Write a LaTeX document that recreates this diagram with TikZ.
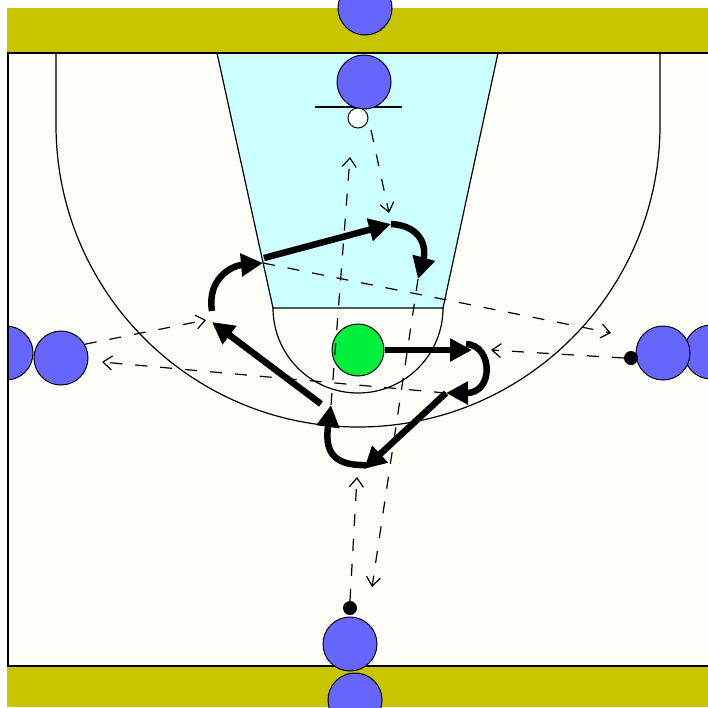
\documentclass[tikz,border=0pt]{standalone}
\usetikzlibrary{arrows.meta}
\definecolor{band}{RGB}{200,196,0}
\definecolor{court}{RGB}{254,254,248}
\definecolor{lanec}{RGB}{204,255,255}
\definecolor{pblue}{RGB}{102,102,255}
\definecolor{pgreen}{RGB}{0,240,60}
\begin{document}
\begin{tikzpicture}[x=1pt,y=-1pt,
  player/.style={circle,draw=black,fill=pblue,line width=1pt,minimum size=54pt,inner sep=0pt},
  ballpt/.style={circle,fill=black,minimum size=14pt,inner sep=0pt},
  thinline/.style={draw=black,line width=1.2pt},
  move/.style={line width=6.5pt,-{Triangle[length=22pt,width=22pt]}},
  pass/.style={line width=1.2pt,dash pattern=on 12pt off 13pt,-{Straight Barb[length=9pt,width=14pt,line width=1.2pt]}}]
\useasboundingbox (0,0) rectangle (708,707);
\fill[white] (0,0) rectangle (708,707);
\clip (7,0) rectangle (708,707);
% court
\fill[court] (7,53) rectangle (708,665);
\filldraw[fill=lanec,thinline] (217,53) -- (498,53) -- (443,308) -- (273,308) -- cycle;
\draw[thinline] (273,308) arc[start angle=180,end angle=0,radius=85];
\draw[thinline] (56,53) -- (56,125) arc[start angle=180,end angle=0,radius=302] -- (660,53);
\draw[thinline] (315,107) -- (402,107);
% bands
\fill[band] (7,8) rectangle (708,53);
\fill[band] (7,665) rectangle (708,707);
\draw[line width=1.8pt] (7,53) -- (708,53);
\draw[line width=2pt] (7,665.5) -- (708,665.5);
\draw[line width=2pt] (8,53) -- (8,666);
% players
\node[player] (t1) at (365,8) {};
\node[player] (t2) at (364,82) {};
\node[circle,draw=black,fill=white,line width=1pt,minimum size=20pt,inner sep=0pt] (rim) at (358,118) {};
\node[player] (l1) at (6,353) {};
\node[player] (l2) at (61,358) {};
\node[player] (r2) at (711,352) {};
\node[player] (r1) at (663,353) {};
\node[ballpt] (rdot) at (631,358) {};
\node[player] (b2) at (355,700) {};
\node[player] (b1) at (350,644) {};
\node[ballpt] (bdot) at (350,608) {};
\node[circle,draw=black,fill=pgreen,line width=1pt,minimum size=52pt,inner sep=0pt] (g) at (358,350) {};
\draw[line width=2pt] (8,300) -- (8,400);
% waypoints
\coordinate (s1e) at (472,350);
\coordinate (c1s) at (466,344);
\coordinate (c1a) at (493,345);
\coordinate (c1b) at (494,393);
\coordinate (c1e) at (446,393);
\coordinate (s2e) at (364,469);
\coordinate (c2s) at (366,465);
\coordinate (c2a) at (330,466);
\coordinate (c2b) at (325,448);
\coordinate (c2e) at (331,405);
\coordinate (s3s) at (321,404);
\coordinate (s3e) at (212,322);
\coordinate (c3s) at (212,311);
\coordinate (c3a) at (207,280);
\coordinate (c3b) at (230,266);
\coordinate (c3e) at (263,263);
\coordinate (s4s) at (264,258);
\coordinate (s4e) at (391,224);
\coordinate (c4s) at (391,224);
\coordinate (c4a) at (424,226);
\coordinate (c4b) at (426,250);
\coordinate (c4e) at (418,279);
\coordinate (p1e) at (357,477);
\coordinate (p2e) at (372,587);
\coordinate (p3e) at (206,320);
\coordinate (p4e) at (102,362);
\coordinate (p5e) at (611,333);
\coordinate (p6e) at (491,350);
\coordinate (p7s) at (371,130);
\coordinate (p7e) at (389,213);
\coordinate (p8e) at (350,157);
% passes
\draw[pass] (bdot.north) -- (p1e);
\draw[pass] (c4e) -- (p2e);
\draw[pass] (l2.30) -- (p3e);
\draw[pass] (c1e) -- (p4e);
\draw[pass] (c3e) -- (p5e);
\draw[pass] (rdot.west) -- (p6e);
\draw[pass] (p7s) -- (p7e);
\draw[pass] (c2e) -- (p8e);
% moves
\draw[move] (g.east) -- (s1e);
\draw[move] (c1s) .. controls (c1a) and (c1b) .. (c1e);
\draw[move] (c1e) -- (s2e);
\draw[move] (c2s) .. controls (c2a) and (c2b) .. (c2e);
\draw[move] (s3s) -- (s3e);
\draw[move] (c3s) .. controls (c3a) and (c3b) .. (c3e);
\draw[move] (s4s) -- (s4e);
\draw[move] (c4s) .. controls (c4a) and (c4b) .. (c4e);
\end{tikzpicture}
\end{document}
